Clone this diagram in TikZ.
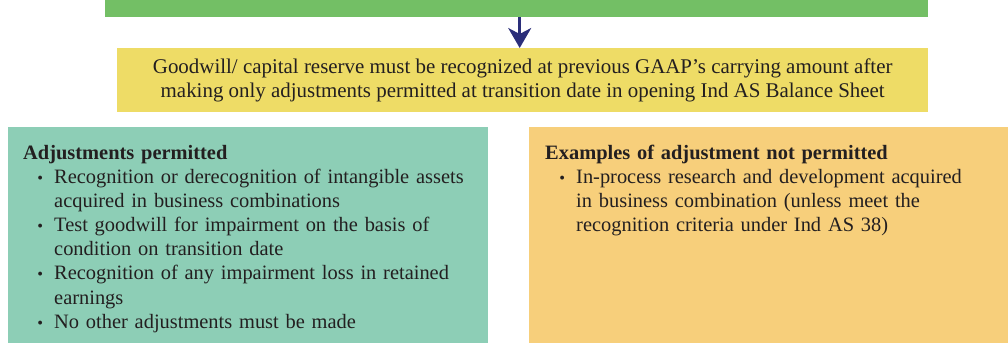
\documentclass[tikz,border=0pt]{standalone}
\usepackage{fontspec}
\setmainfont{Liberation Serif}
\usepackage{enumitem}
\usetikzlibrary{arrows.meta, positioning}

\definecolor{headgreen}{RGB}{115,191,101}
\definecolor{ruleyellow}{RGB}{238,220,102}
\definecolor{okteal}{RGB}{141,206,182}
\definecolor{noorange}{RGB}{247,207,123}
\definecolor{arrownavy}{RGB}{43,46,122}
\definecolor{inkgray}{RGB}{35,31,32}

\newcommand{\boxfont}{\fontsize{20.5}{24.2}\selectfont}
\newlist{adjlist}{itemize}{1}
\setlist[adjlist]{label=\scalebox{0.8}{\textbullet}, leftmargin=31bp, labelsep=11bp, itemsep=0pt, topsep=0pt, parsep=0pt, partopsep=0pt}

\tikzset{
    panel/.style={inner sep=0pt, anchor=north west},
    paneltext/.style={inner sep=0pt, anchor=north west, align=left, text=inkgray, font=\boxfont}
}

\begin{document}
\begin{tikzpicture}[x=1bp, y=-1bp]
    \useasboundingbox (0,0) rectangle (1008,343);

    \node[panel, fill=headgreen, minimum width=823bp, minimum height=17bp] (head) at (105,0) {};
    \node[panel, fill=ruleyellow, minimum width=811bp, minimum height=64bp,
        align=center, text=inkgray, font=\fontsize{21}{24}\selectfont] (rule) at (117,48)
        {Goodwill/ capital reserve must be recognized at previous GAAP’s carrying amount after\\
        making only adjustments permitted at transition date in opening Ind AS Balance Sheet};

    \draw[arrownavy, line width=2.5bp, -{Stealth[length=20bp, width=23bp, inset=6bp]}]
        ([xshift=3bp]head.south) -- ([xshift=3bp]head.south |- rule.north);

    % lower panels
    \node[panel, fill=okteal, minimum width=480bp, minimum height=216bp] (permitted) at (8,127) {};
    \node[panel, fill=noorange, minimum width=479bp, minimum height=216bp] (notpermitted) at (529,127) {};

    \node[paneltext, text width=460bp] (permittedtext) at ([xshift=15bp, yshift=-18bp]permitted.north west)
        {\textbf{Adjustments permitted}
        \begin{adjlist}
            \item Recognition or derecognition of intangible assets\\ acquired in business combinations
            \item Test goodwill for impairment on the basis of\\ condition on transition date
            \item Recognition of any impairment loss in retained\\ earnings
            \item No other adjustments must be made
        \end{adjlist}};
    \node[paneltext, text width=455bp] (notpermittedtext) at ([xshift=16bp, yshift=-18bp]notpermitted.north west)
        {\textbf{Examples of adjustment not permitted}
        \begin{adjlist}
            \item In-process research and development acquired\\ in business combination (unless meet the\\ recognition criteria under Ind AS 38)
        \end{adjlist}};
\end{tikzpicture}
\end{document}
